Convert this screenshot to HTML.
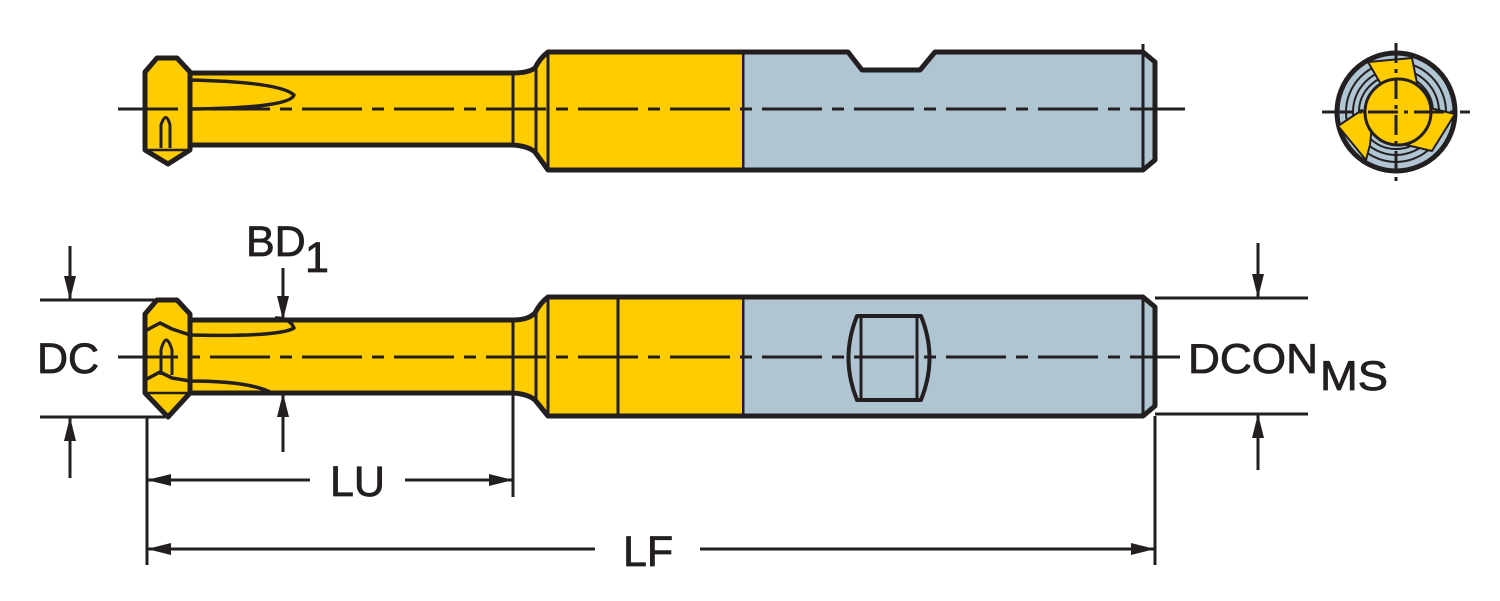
<!DOCTYPE html>
<html><head><meta charset="utf-8"><style>
html,body{margin:0;padding:0;background:#fff;}
svg{display:block;}
text{font-family:"Liberation Sans",Arial,sans-serif;fill:#231f20;stroke:#231f20;stroke-width:0.8;}
</style></head><body>
<svg width="1500" height="601" viewBox="0 0 1500 601" xmlns="http://www.w3.org/2000/svg">
<defs>
<marker id="ah" viewBox="0 0 24 12" refX="24" refY="6" markerWidth="24" markerHeight="12" markerUnits="userSpaceOnUse" orient="auto"><path d="M0,0 L24,6 L0,12 z" fill="#231f20"/></marker>
</defs>
<g stroke="#231f20" stroke-linejoin="round">
<!-- TOP VIEW -->
<path d="M742,52 L848,52 L862,70 L920,70 L935,52 L1143,52 L1155,62 L1155,160 L1143,170 L742,170 z" fill="#afc5d2" stroke-width="5"/>
<path d="M742,52 L548,52 Q540,58 535,68 Q528,73 513,73 L190,73 L190,145 L513,145 Q528,146 535,152 L548,170 L742,170" fill="#ffcc00" stroke-width="5"/>
<path d="M145,72 L157,58 L177,58 L190,72 L190,150 L168,164 L145,150 z" fill="#ffcc00" stroke-width="5"/>
<line x1="145" y1="150" x2="190" y2="150" stroke-width="2.5"/>
<path d="M190,80 Q280,82 294,95 Q290,108 190,109" fill="none" stroke-width="3.5"/>
<path d="M161,148 L161,125 Q166,110 170,125 L170,148" fill="none" stroke-width="3"/>
<line x1="513" y1="73" x2="513" y2="145" stroke-width="3"/>
<line x1="536" y1="66" x2="536" y2="154" stroke-width="3"/>
<line x1="548" y1="52" x2="548" y2="170" stroke-width="3"/>
<line x1="1143" y1="44" x2="1143" y2="170" stroke-width="3"/>
<line x1="118" y1="109" x2="1185" y2="109" stroke-width="3" stroke-dasharray="60,10,12,10"/>

<!-- END VIEW -->
<circle cx="1396" cy="112" r="59" fill="#afc5d2" stroke-width="5"/>
<circle cx="1396" cy="112" r="50" fill="none" stroke-width="2"/>
<circle cx="1396" cy="112" r="43" fill="none" stroke-width="2"/>
<circle cx="1396" cy="112" r="37" fill="none" stroke-width="2"/>
<path d="M1368,62 L1412,58 L1418,88 L1400,80 L1382,86 z" fill="#ffcc00" stroke-width="2"/>
<path d="M1455,114 L1432,151 L1398,143 L1420,120 L1430,108 z" fill="#ffcc00" stroke-width="2"/>
<path d="M1338,126 L1362,110 L1372,125 L1370,145 L1366,160 z" fill="#ffcc00" stroke-width="2"/>
<circle cx="1398" cy="112" r="33" fill="#ffcc00" stroke-width="3"/>
<line x1="1396" y1="43" x2="1396" y2="185" stroke-width="3" stroke-dasharray="20,6,4,6"/>
<line x1="1322" y1="112" x2="1470" y2="112" stroke-width="3" stroke-dasharray="30,6,4,6"/>

<!-- BOTTOM VIEW -->
<path d="M742,297 L1143,297 L1155,307 L1155,406 L1143,416 L742,416 z" fill="#afc5d2" stroke-width="5"/>
<path d="M742,297 L548,297 Q540,303 535,313 Q528,320 513,320 L190,320 L190,393 L513,393 Q528,394 535,400 L548,416 L742,416" fill="#ffcc00" stroke-width="5"/>
<path d="M145,314 L157,300 L177,300 L190,314 L190,393 L168,417 L145,393 z" fill="#ffcc00" stroke-width="5"/>
<line x1="145" y1="393" x2="190" y2="393" stroke-width="2.5"/>
<path d="M145,331 L160,323 L172,329 L190,335 Q280,337 294,328 Q290,318 275,318" fill="none" stroke-width="3.5"/>
<path d="M145,380 L160,372 L172,378 L190,381 Q250,381 272,393" fill="none" stroke-width="3.5"/>
<path d="M161,375 L161,350 Q166,330 172,350 L172,375" fill="none" stroke-width="3"/>
<line x1="513" y1="320" x2="513" y2="393" stroke-width="3"/>
<line x1="536" y1="310" x2="536" y2="402" stroke-width="3"/>
<line x1="548" y1="297" x2="548" y2="416" stroke-width="3"/>
<line x1="618" y1="297" x2="618" y2="416" stroke-width="3"/>
<line x1="1143" y1="297" x2="1143" y2="416" stroke-width="3"/>
<path d="M857,316 L921,316 Q938,358 921,400 L857,400 Q840,358 857,316 z" fill="none" stroke-width="4"/>
<line x1="861" y1="316" x2="861" y2="400" stroke-width="3"/>
<line x1="917" y1="316" x2="917" y2="400" stroke-width="3"/>
<line x1="118" y1="357" x2="1180" y2="357" stroke-width="3" stroke-dasharray="60,10,12,10"/>

<!-- dimensions -->
<g stroke-width="3" fill="none">
<line x1="40" y1="300" x2="160" y2="300"/>
<line x1="40" y1="417" x2="165" y2="417"/>
<line x1="70" y1="246" x2="70" y2="300" marker-end="url(#ah)"/>
<line x1="70" y1="478" x2="70" y2="417" marker-end="url(#ah)"/>
<line x1="283" y1="268" x2="283" y2="320" marker-end="url(#ah)"/>
<line x1="283" y1="452" x2="283" y2="393" marker-end="url(#ah)"/>
<line x1="1155" y1="298" x2="1308" y2="298"/>
<line x1="1155" y1="414" x2="1308" y2="414"/>
<line x1="1258" y1="243" x2="1258" y2="298" marker-end="url(#ah)"/>
<line x1="1258" y1="470" x2="1258" y2="414" marker-end="url(#ah)"/>
<line x1="147" y1="417" x2="147" y2="565"/>
<line x1="513" y1="393" x2="513" y2="497"/>
<line x1="1155" y1="416" x2="1155" y2="565"/>
<line x1="310" y1="480" x2="147" y2="480" marker-end="url(#ah)"/>
<line x1="405" y1="480" x2="513" y2="480" marker-end="url(#ah)"/>
<line x1="595" y1="549" x2="147" y2="549" marker-end="url(#ah)"/>
<line x1="700" y1="549" x2="1155" y2="549" marker-end="url(#ah)"/>
</g>
</g>
<text x="37" y="373" font-size="43">DC</text>
<text x="246" y="256" font-size="43">BD</text>
<text x="305" y="272" font-size="43">1</text>
<text x="1188" y="373" font-size="42" textLength="130" lengthAdjust="spacingAndGlyphs">DCON</text>
<text x="1320" y="390" font-size="42" textLength="68" lengthAdjust="spacingAndGlyphs">MS</text>
<text x="330" y="496" font-size="43">LU</text>
<text x="623" y="566" font-size="43">LF</text>
</svg>
</body></html>
